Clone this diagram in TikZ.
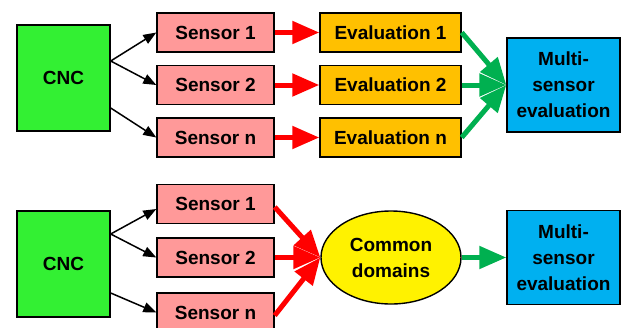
\documentclass[tikz,border=0pt]{standalone}
\usepackage{fontspec}
\setmainfont{Liberation Sans}
\usetikzlibrary{arrows.meta,shapes.geometric}
\definecolor{cncgreen}{RGB}{51,240,51}
\definecolor{sensorpink}{RGB}{255,153,153}
\definecolor{evalorange}{RGB}{255,192,0}
\definecolor{multiblue}{RGB}{0,176,240}
\definecolor{arrowgreen}{RGB}{0,176,80}
\definecolor{arrowred}{RGB}{255,0,0}
\tikzset{
  base/.style={draw=black, line width=1.4pt, inner sep=0pt, align=center,
    font=\fontsize{19}{26}\selectfont\bfseries},
  cncbox/.style={base, fill=cncgreen, minimum width=93pt, minimum height=106pt},
  sensorbox/.style={base, fill=sensorpink, minimum width=117pt, minimum height=39pt},
  evalbox/.style={base, fill=evalorange, minimum width=141pt, minimum height=39pt},
  multibox/.style={base, fill=multiblue, minimum width=113pt, minimum height=94pt},
  commonell/.style={base, ellipse, fill=yellow, minimum width=140pt, minimum height=93pt},
  blackarrow/.style={draw=black, line width=1.5pt, -{Triangle[length=13pt,width=10pt]}},
  redarrow/.style={draw=arrowred, line width=5pt, -{Triangle[length=27pt,width=22pt]}},
  greenarrow/.style={draw=arrowgreen, line width=5pt, -{Triangle[length=27pt,width=22pt]}},
}
\begin{document}
\begin{tikzpicture}[x=1pt,y=-1pt]
\useasboundingbox (0,0) rectangle (621,327);
% top diagram
\node[cncbox] (cncA) at (63.5,78) {CNC};
\node[sensorbox] (sA1) at (215.5,32.5) {Sensor 1};
\node[sensorbox] (sA2) at (215.5,85) {Sensor 2};
\node[sensorbox] (sAn) at (215.5,137.5) {Sensor n};
\node[evalbox] (eA1) at (390.5,32.5) {Evaluation 1};
\node[evalbox] (eA2) at (390.5,85) {Evaluation 2};
\node[evalbox] (eAn) at (390.5,137.5) {Evaluation n};
\node[multibox] (mA) at (563.5,85) {Multi-\\sensor\\evaluation};
\draw[blackarrow] ([yshift=17pt]cncA.east) -- (sA1.west);
\draw[blackarrow] ([yshift=17pt]cncA.east) -- (sA2.west);
\draw[blackarrow] ([yshift=-30pt]cncA.east) -- (sAn.west);
\draw[redarrow] (sA1.east) -- (eA1.west);
\draw[redarrow] (sA2.east) -- (eA2.west);
\draw[redarrow] (sAn.east) -- (eAn.west);
\draw[greenarrow] (eA1.east) -- (mA.west);
\draw[greenarrow] (eA2.east) -- (mA.west);
\draw[greenarrow] (eAn.east) -- (mA.west);
% bottom diagram
\node[cncbox] (cncB) at (63.5,264) {CNC};
\node[sensorbox] (sB1) at (215.5,204) {Sensor 1};
\node[sensorbox] (sB2) at (215.5,257.5) {Sensor 2};
\node[sensorbox] (sBn) at (215.5,312.5) {Sensor n};
\node[commonell] (cd) at (391,257.5) {Common\\domains};
\node[multibox] (mB) at (563.5,257.5) {Multi-\\sensor\\evaluation};
\draw[blackarrow] ([yshift=30pt]cncB.east) -- ([yshift=-5pt]sB1.west);
\draw[blackarrow] ([yshift=30pt]cncB.east) -- (sB2.west);
\draw[blackarrow] ([yshift=-29pt]cncB.east) -- ([yshift=0pt]sBn.west);
\draw[redarrow] ([yshift=-3pt]sB1.east) -- (cd.west);
\draw[redarrow] (sB2.east) -- (cd.west);
\draw[redarrow] ([yshift=-3pt]sBn.east) -- (cd.west);
\draw[greenarrow] (cd.east) -- (mB.west);
\end{tikzpicture}
\end{document}
